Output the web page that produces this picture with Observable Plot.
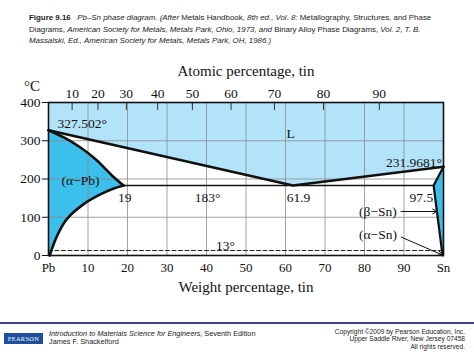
<!DOCTYPE html>
<html>
<head>
<meta charset="utf-8">
<script src="https://cdn.jsdelivr.net/npm/d3@7"></script>
<script src="https://cdn.jsdelivr.net/npm/@observablehq/plot@0.6"></script>
<style>
  html, body { margin: 0; padding: 0; background: #fff; }
  #page { position: relative; width: 474px; height: 355px; overflow: hidden; background: #fff; }
  #caption { position: absolute; left: 29px; top: 12px; width: 440px; font-family: "Liberation Sans", Arial, sans-serif; font-size: 7.9px; line-height: 11.5px; color: #222; white-space: nowrap; }
  #chart { position: absolute; left: 0; top: 55px; }
  #rule { position: absolute; left: 0; top: 322px; width: 474px; height: 2px; background: #3d3f8c; }
  #logo { position: absolute; left: 4px; top: 333px; width: 39px; height: 11px; background: #1f4f9c; color: #fff; font-family: "Liberation Serif", serif; font-size: 6.3px; letter-spacing: 0.4px; line-height: 11px; text-align: center; }
  #book { position: absolute; left: 49px; top: 330px; font-family: "Liberation Sans", Arial, sans-serif; font-size: 7.3px; line-height: 8.4px; color: #222; white-space: nowrap; }
  #copy { position: absolute; right: 9px; top: 327.5px; font-family: "Liberation Sans", Arial, sans-serif; font-size: 6.6px; line-height: 7.6px; color: #222; text-align: right; white-space: nowrap; }
</style>
</head>
<body>
<div id="page">
  <div id="caption">
    <b>Figure 9.16</b>&nbsp;&nbsp;&nbsp;<i>Pb–Sn phase diagram. (After</i> Metals Handbook, <i>8th ed., Vol. 8:</i> Metallography, Structures, and Phase<br>
    Diagrams, <i>American Society for Metals, Metals Park, Ohio, 1973, and</i> Binary Alloy Phase Diagrams, <i>Vol. 2, T. B.</i><br>
    <i>Massalski, Ed., American Society for Metals, Metals Park, OH, 1986.)</i>
  </div>
  <div id="chart"></div>
  <div id="rule"></div>
  <div id="logo">PEARSON</div>
  <div id="book"><i>Introduction to Materials Science for Engineers</i>, Seventh Edition<br>James F. Shackelford</div>
  <div id="copy">Copyright ©2009 by Pearson Education, Inc.<br>Upper Saddle River, New Jersey 07458<br>All rights reserved.</div>
</div>
<script>
// ---- data (weight % Sn, temperature °C) ----
const liquidus = [[0, 327.502], [61.9, 183], [100, 231.9681]];
const alphaSolidus = [[19, 183], [16, 210], [12, 251], [8, 283], [4, 308], [0, 327.502]];
const alphaSolvus = [[0.3, 0], [2.2, 52], [4.7, 96], [9, 135], [13, 159], [16.5, 175], [19, 183]];
const betaBoundary = [[99.8, 0], [99.6, 13], [97.5, 183], [100, 231.9681]];
const eutectic = [[19, 183], [97.5, 183]];
const alphaSnLine = [[0, 13], [100, 13]];
const weightTicks = [0, 10, 20, 30, 40, 50, 60, 70, 80, 90, 100];
const weightTickLabels = ["Pb", "10", "20", "30", "40", "50", "60", "70", "80", "90", "Sn"];
const atomicTicks = [10, 20, 30, 40, 50, 60, 70, 80, 90];
const tempTicks = [0, 100, 200, 300, 400];
const gridW = [10, 20, 30, 40, 50, 60, 70, 80, 90];
const gridT = [100, 200, 300];
const labels = [
  {x: 2.3, y: 344, text: "327.502°", anchor: "start"},
  {x: 61.3, y: 318, text: "L", anchor: "middle"},
  {x: 99.6, y: 243, text: "231.9681°", anchor: "end"},
  {x: 8.1, y: 195, text: "(α−Pb)", anchor: "middle"},
  {x: 19.3, y: 152, text: "19", anchor: "middle"},
  {x: 40.3, y: 152, text: "183°", anchor: "middle"},
  {x: 63.3, y: 152, text: "61.9", anchor: "middle"},
  {x: 97.4, y: 152, text: "97.5", anchor: "end"},
  {x: 44.8, y: 27, text: "13°", anchor: "middle"},
  {x: 83.4, y: 115, text: "(β−Sn)", anchor: "middle"},
  {x: 83.4, y: 55, text: "(α−Sn)", anchor: "middle"}
];
const arrows = [
  {x1: 89.3, y1: 115, x2: 98.3, y2: 115},
  {x1: 89.3, y1: 48, x2: 99.6, y2: 2}
];
// atomic % Sn -> weight % Sn
const M_SN = 118.71, M_PB = 207.2;
const atomicToWeight = a => 100 * a * M_SN / (a * M_SN + (100 - a) * M_PB);
const atomicW = atomicTicks.map(atomicToWeight);

const LIGHT = "#b3e3f8", DARK = "#3cbfea";
const serif = "Liberation Serif, Times New Roman, serif";

const chart = Plot.plot({
  width: 474,
  height: 250,
  marginTop: 47,
  marginBottom: 50,
  marginLeft: 48,
  marginRight: 31,
  style: {fontFamily: serif, fontSize: "13.5px", color: "#111", background: "transparent", overflow: "visible"},
  x: {domain: [0, 100]},
  y: {domain: [0, 400]},
  marks: [
    Plot.areaY(liquidus, {x: d => d[0], y1: d => d[1], y2: 400, fill: LIGHT}),
    Plot.areaX(alphaSolidus, {y: d => d[1], x1: 0, x2: d => d[0], fill: DARK, curve: "catmull-rom"}),
    Plot.areaX(alphaSolvus, {y: d => d[1], x1: 0, x2: d => d[0], fill: DARK, curve: "catmull-rom"}),
    Plot.areaX(betaBoundary, {y: d => d[1], x1: d => d[0], x2: 100, fill: DARK}),
    Plot.ruleX(gridW, {stroke: "#8a8a8a", strokeWidth: 0.8}),
    Plot.ruleY(gridT, {stroke: "#8a8a8a", strokeWidth: 0.8}),
    Plot.line(alphaSnLine, {x: d => d[0], y: d => d[1], stroke: "#222", strokeWidth: 1, strokeDasharray: "4,2.5"}),
    Plot.line(eutectic, {x: d => d[0], y: d => d[1], stroke: "#111", strokeWidth: 1.6}),
    Plot.line(liquidus, {x: d => d[0], y: d => d[1], stroke: "#111", strokeWidth: 2.6}),
    Plot.line(alphaSolidus, {x: d => d[0], y: d => d[1], stroke: "#111", strokeWidth: 2.6, curve: "catmull-rom"}),
    Plot.line(alphaSolvus, {x: d => d[0], y: d => d[1], stroke: "#111", strokeWidth: 2.6, curve: "catmull-rom"}),
    Plot.line(betaBoundary, {x: d => d[0], y: d => d[1], stroke: "#111", strokeWidth: 2.2}),
    Plot.ruleX(atomicW, {y1: 400, y2: 379, stroke: "#333", strokeWidth: 1}),
    Plot.frame({stroke: "#111", strokeWidth: 1.6}),
    Plot.arrow(arrows, {x1: "x1", y1: "y1", x2: "x2", y2: "y2", stroke: "#111", strokeWidth: 1, headLength: 7}),
    Plot.text(labels.filter(d => d.anchor === "start"), {x: "x", y: "y", text: "text", textAnchor: "start", fill: "#111", fontSize: 13.5}),
    Plot.text(labels.filter(d => d.anchor === "middle"), {x: "x", y: "y", text: "text", textAnchor: "middle", fill: "#111", fontSize: 13.5}),
    Plot.text(labels.filter(d => d.anchor === "end"), {x: "x", y: "y", text: "text", textAnchor: "end", fill: "#111", fontSize: 13.5}),
    Plot.axisY({ticks: tempTicks, tickSize: 6, tickPadding: 2, tickFormat: d => String(d), fontSize: 13.5, label: null}),
    Plot.axisX({ticks: weightTicks, tickSize: 0, tickPadding: 7, tickFormat: d => weightTickLabels[weightTicks.indexOf(d)], fontSize: 13, label: null}),
    Plot.axisX({anchor: "top", ticks: atomicW, tickSize: 0, tickPadding: 5, tickFormat: (d, i) => String(atomicTicks[i]), fontSize: 13.5, label: null}),
    Plot.text(["Atomic percentage, tin"], {frameAnchor: "top", lineAnchor: "middle", dy: -31, fontSize: 15, fill: "#111"}),
    Plot.text(["Weight percentage, tin"], {frameAnchor: "bottom", lineAnchor: "middle", dy: 32, fontSize: 15, fill: "#111"}),
    Plot.text(["°C"], {frameAnchor: "top-left", lineAnchor: "middle", textAnchor: "middle", dx: -16.5, dy: -16, fontSize: 15, fill: "#111"})
  ]
});
document.getElementById("chart").appendChild(chart);
</script>
</body>
</html>
